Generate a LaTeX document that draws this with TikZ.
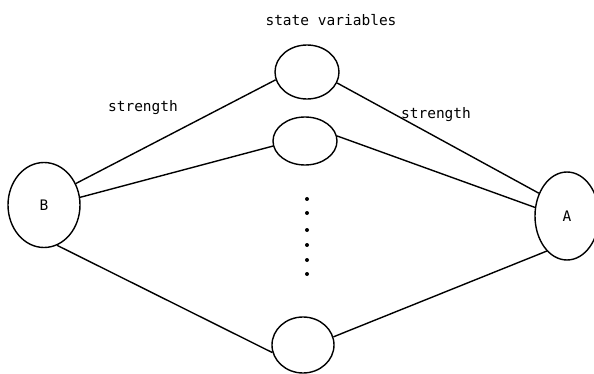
\documentclass[tikz,border=0pt]{standalone}
\usepackage{fontspec}
\setmonofont{DejaVu Sans Mono}
\usetikzlibrary{shapes.geometric}
\begin{document}
\begin{tikzpicture}[x=1pt,y=-1pt,
  ell/.style={draw,ellipse,line width=1.4pt,inner sep=0pt},
  lbl/.style={font=\ttfamily\fontsize{14.5}{17}\selectfont,inner sep=0pt},
  conn/.style={line width=1.4pt},
  dotmark/.style={circle,fill,inner sep=0pt,minimum size=4pt}]
\useasboundingbox (0,0) rectangle (594,374);
\clip (0,0) rectangle (594,374);
\node[ell,minimum width=72pt,minimum height=85pt,font=\ttfamily\fontsize{14.5}{17}\selectfont] (B) at (44,205) {B};
\node[ell,minimum width=64pt,minimum height=88pt,font=\ttfamily\fontsize{14.5}{17}\selectfont] (A) at (567,216) {A};
\node[ell,minimum width=64pt,minimum height=54pt] (T) at (307,72) {};
\node[ell,minimum width=64pt,minimum height=48pt] (S) at (305,141) {};
\node[ell,minimum width=62pt,minimum height=56pt] (U) at (303,345) {};
\node[lbl] (sv) at (331,20) {state variables};
\node[lbl] (s1) at (143,108) {strength};
\node[lbl] (s2) at (436,115) {strength};
\foreach \y [count=\i] in {199,213,230,245,260,274}
  \node[dotmark] (d\i) at (307,\y) {};
\draw[conn] (B.34) -- (T.194);
\draw[conn] (B.12) -- (S.189);
\draw[conn] (B.-72) -- (U.194);
\draw[conn] (T.-20) -- (A.141);
\draw[conn] (S.9) -- (A.165);
\draw[conn] (U.15) -- (A.240);
\end{tikzpicture}
\end{document}
